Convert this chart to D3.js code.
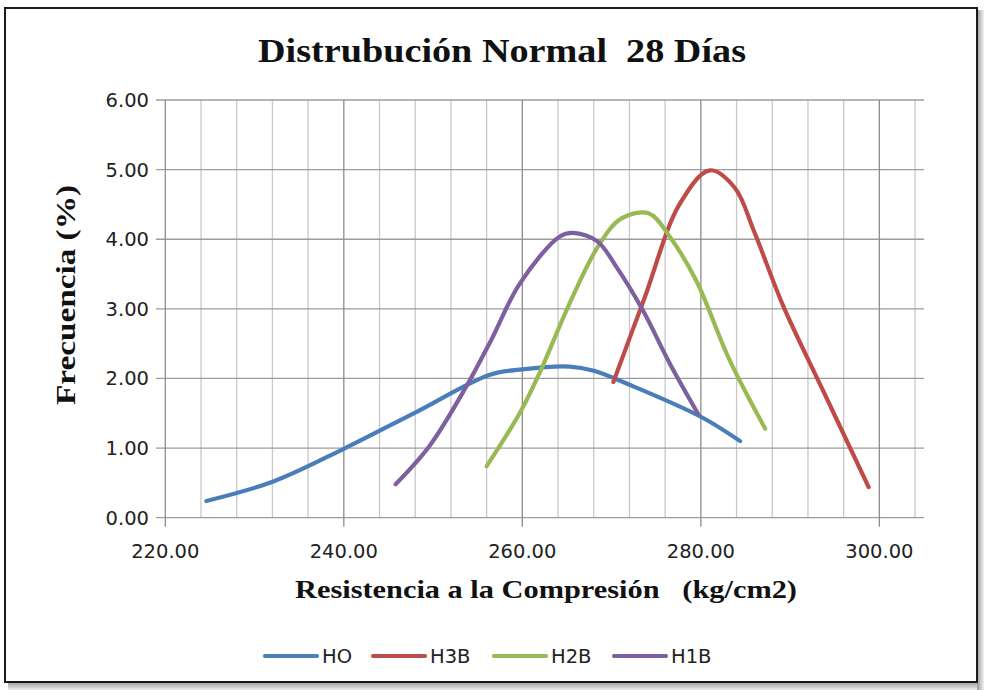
<!DOCTYPE html>
<html><head><meta charset="utf-8">
<script src="https://cdn.jsdelivr.net/npm/d3@7"></script>
<style>body{margin:0;background:#fff}svg{display:block}text{white-space:pre}</style>
</head><body>
<svg id="c" width="984" height="690"></svg>
<script>
const title = "Distrubución Normal  28 Días";
const xTitle = "Resistencia a la Compresión   (kg/cm2)";
const yTitle = "Frecuencia (%)";
const xTicks = [220, 240, 260, 280, 300];
const xMinorTicks = [224, 228, 232, 236, 244, 248, 252, 256, 264, 268, 272, 276, 284, 288, 292, 296, 304];
const yTicks = [0, 1, 2, 3, 4, 5, 6];
const seriesNames = ["HO", "H3B", "H2B", "H1B"];
const seriesColors = ["#4A7EBB", "#BE4B48", "#98B954", "#7D60A0"];
const HO  = [[224.6,0.24],[232.1,0.52],[240,0.99],[248,1.51],[256.3,2.05],[260,2.13],[265.3,2.17],[268,2.11],[272,1.91],[280,1.45],[284.4,1.10]];
const H3B = [[270.2,1.95],[273.7,3.16],[277.6,4.50],[281,4.99],[283.8,4.74],[286,4.10],[289.2,3.05],[293.6,1.85],[298.8,0.44]];
const H2B = [[256,0.74],[259.7,1.50],[262,2.10],[265.3,3.08],[268.5,3.90],[271.1,4.30],[274.2,4.37],[276.5,4.04],[279.5,3.40],[283.2,2.27],[287.2,1.28]];
const H1B = [[245.8,0.48],[249.6,1.03],[253.7,1.88],[256.5,2.55],[259.7,3.36],[264.2,4.04],[265.7,4.09],[268.4,3.97],[270.5,3.61],[273.5,2.98],[276.5,2.22],[279.7,1.49]];
const seriesData = [HO, H3B, H2B, H1B];

const svg = d3.select("#c");
const defs = svg.append("defs");
const gb = defs.append("linearGradient").attr("id","gb").attr("x1",0).attr("y1",0).attr("x2",0).attr("y2",1);
gb.append("stop").attr("offset","0").attr("stop-color","#9a9a9a");
gb.append("stop").attr("offset","1").attr("stop-color","#eeeeee");
const gr = defs.append("linearGradient").attr("id","gr").attr("x1",0).attr("y1",0).attr("x2",1).attr("y2",0);
gr.append("stop").attr("offset","0").attr("stop-color","#9a9a9a");
gr.append("stop").attr("offset","1").attr("stop-color","#f2f2f2");
svg.append("rect").attr("x",0).attr("y",0).attr("width",984).attr("height",690).attr("fill","#fff");
svg.append("rect").attr("x",8).attr("y",682).attr("width",974).attr("height",8).attr("fill","url(#gb)");
svg.append("rect").attr("x",977).attr("y",10).attr("width",7).attr("height",680).attr("fill","url(#gr)");
svg.append("rect").attr("x",5).attr("y",8).attr("width",972).attr("height",674)
  .attr("fill","#fff").attr("stroke","#1a1a1a").attr("stroke-width",2);

const x = d3.scaleLinear().domain([220, 305]).range([165.3, 924]);
const y = d3.scaleLinear().domain([0, 6]).range([517.7, 100]);

const g = svg.append("g");
g.selectAll(".vmin").data(xMinorTicks).join("line")
  .attr("x1",d=>x(d)).attr("x2",d=>x(d)).attr("y1",y(6)).attr("y2",y(0))
  .attr("stroke","#c8c8c8").attr("stroke-width",1.3);
g.selectAll(".hg").data(yTicks).join("line")
  .attr("x1",156).attr("x2",x(305)).attr("y1",d=>y(d)).attr("y2",d=>y(d))
  .attr("stroke","#9c9c9c").attr("stroke-width",1.3);
g.selectAll(".vmaj").data(xTicks).join("line")
  .attr("x1",d=>x(d)).attr("x2",d=>x(d)).attr("y1",y(6)).attr("y2",y(0)+9)
  .attr("stroke","#8c8c8c").attr("stroke-width",1.3);

g.selectAll(".yl").data(yTicks).join("text")
  .attr("x",149).attr("y",d=>y(d)+7).attr("text-anchor","end")
  .attr("font-family","DejaVu Sans").attr("font-size",19.5).attr("fill","#222")
  .text(d=>d3.format(".2f")(d));
g.selectAll(".xl").data(xTicks).join("text")
  .attr("x",d=>x(d)).attr("y",558).attr("text-anchor","middle")
  .attr("font-family","DejaVu Sans").attr("font-size",19.5).attr("fill","#222")
  .text(d=>d3.format(".2f")(d));

const line = d3.line().x(d=>x(d[0])).y(d=>y(d[1])).curve(d3.curveCatmullRom.alpha(0.5));
seriesData.forEach((s,i)=>{
  svg.append("path").datum(s).attr("d",line).attr("fill","none")
    .attr("stroke",seriesColors[i]).attr("stroke-width",4.2)
    .attr("stroke-linecap","round").attr("stroke-linejoin","round");
});

svg.append("text").attr("x",258).attr("y",62)
  .attr("textLength",488).attr("lengthAdjust","spacingAndGlyphs")
  .attr("font-family","Liberation Serif").attr("font-weight","bold").attr("font-size",34)
  .attr("fill","#111").text(title);
svg.append("text").attr("x",295).attr("y",598)
  .attr("textLength",502).attr("lengthAdjust","spacingAndGlyphs")
  .attr("font-family","Liberation Serif").attr("font-weight","bold").attr("font-size",25)
  .attr("fill","#111").text(xTitle);
svg.append("text").attr("transform","translate(75,405) rotate(-90)")
  .attr("textLength",220).attr("lengthAdjust","spacingAndGlyphs")
  .attr("font-family","Liberation Serif").attr("font-weight","bold").attr("font-size",27)
  .attr("fill","#111").text(yTitle);

const legX = [265, 373, 494, 614];
seriesNames.forEach((n,i)=>{
  svg.append("line").attr("x1",legX[i]).attr("x2",legX[i]+52).attr("y1",656).attr("y2",656)
    .attr("stroke",seriesColors[i]).attr("stroke-width",4.2).attr("stroke-linecap","round");
  svg.append("text").attr("x",legX[i]+57).attr("y",663).attr("font-family","DejaVu Sans")
    .attr("font-size",19.5).attr("fill","#222").text(n);
});
</script>
</body></html>
